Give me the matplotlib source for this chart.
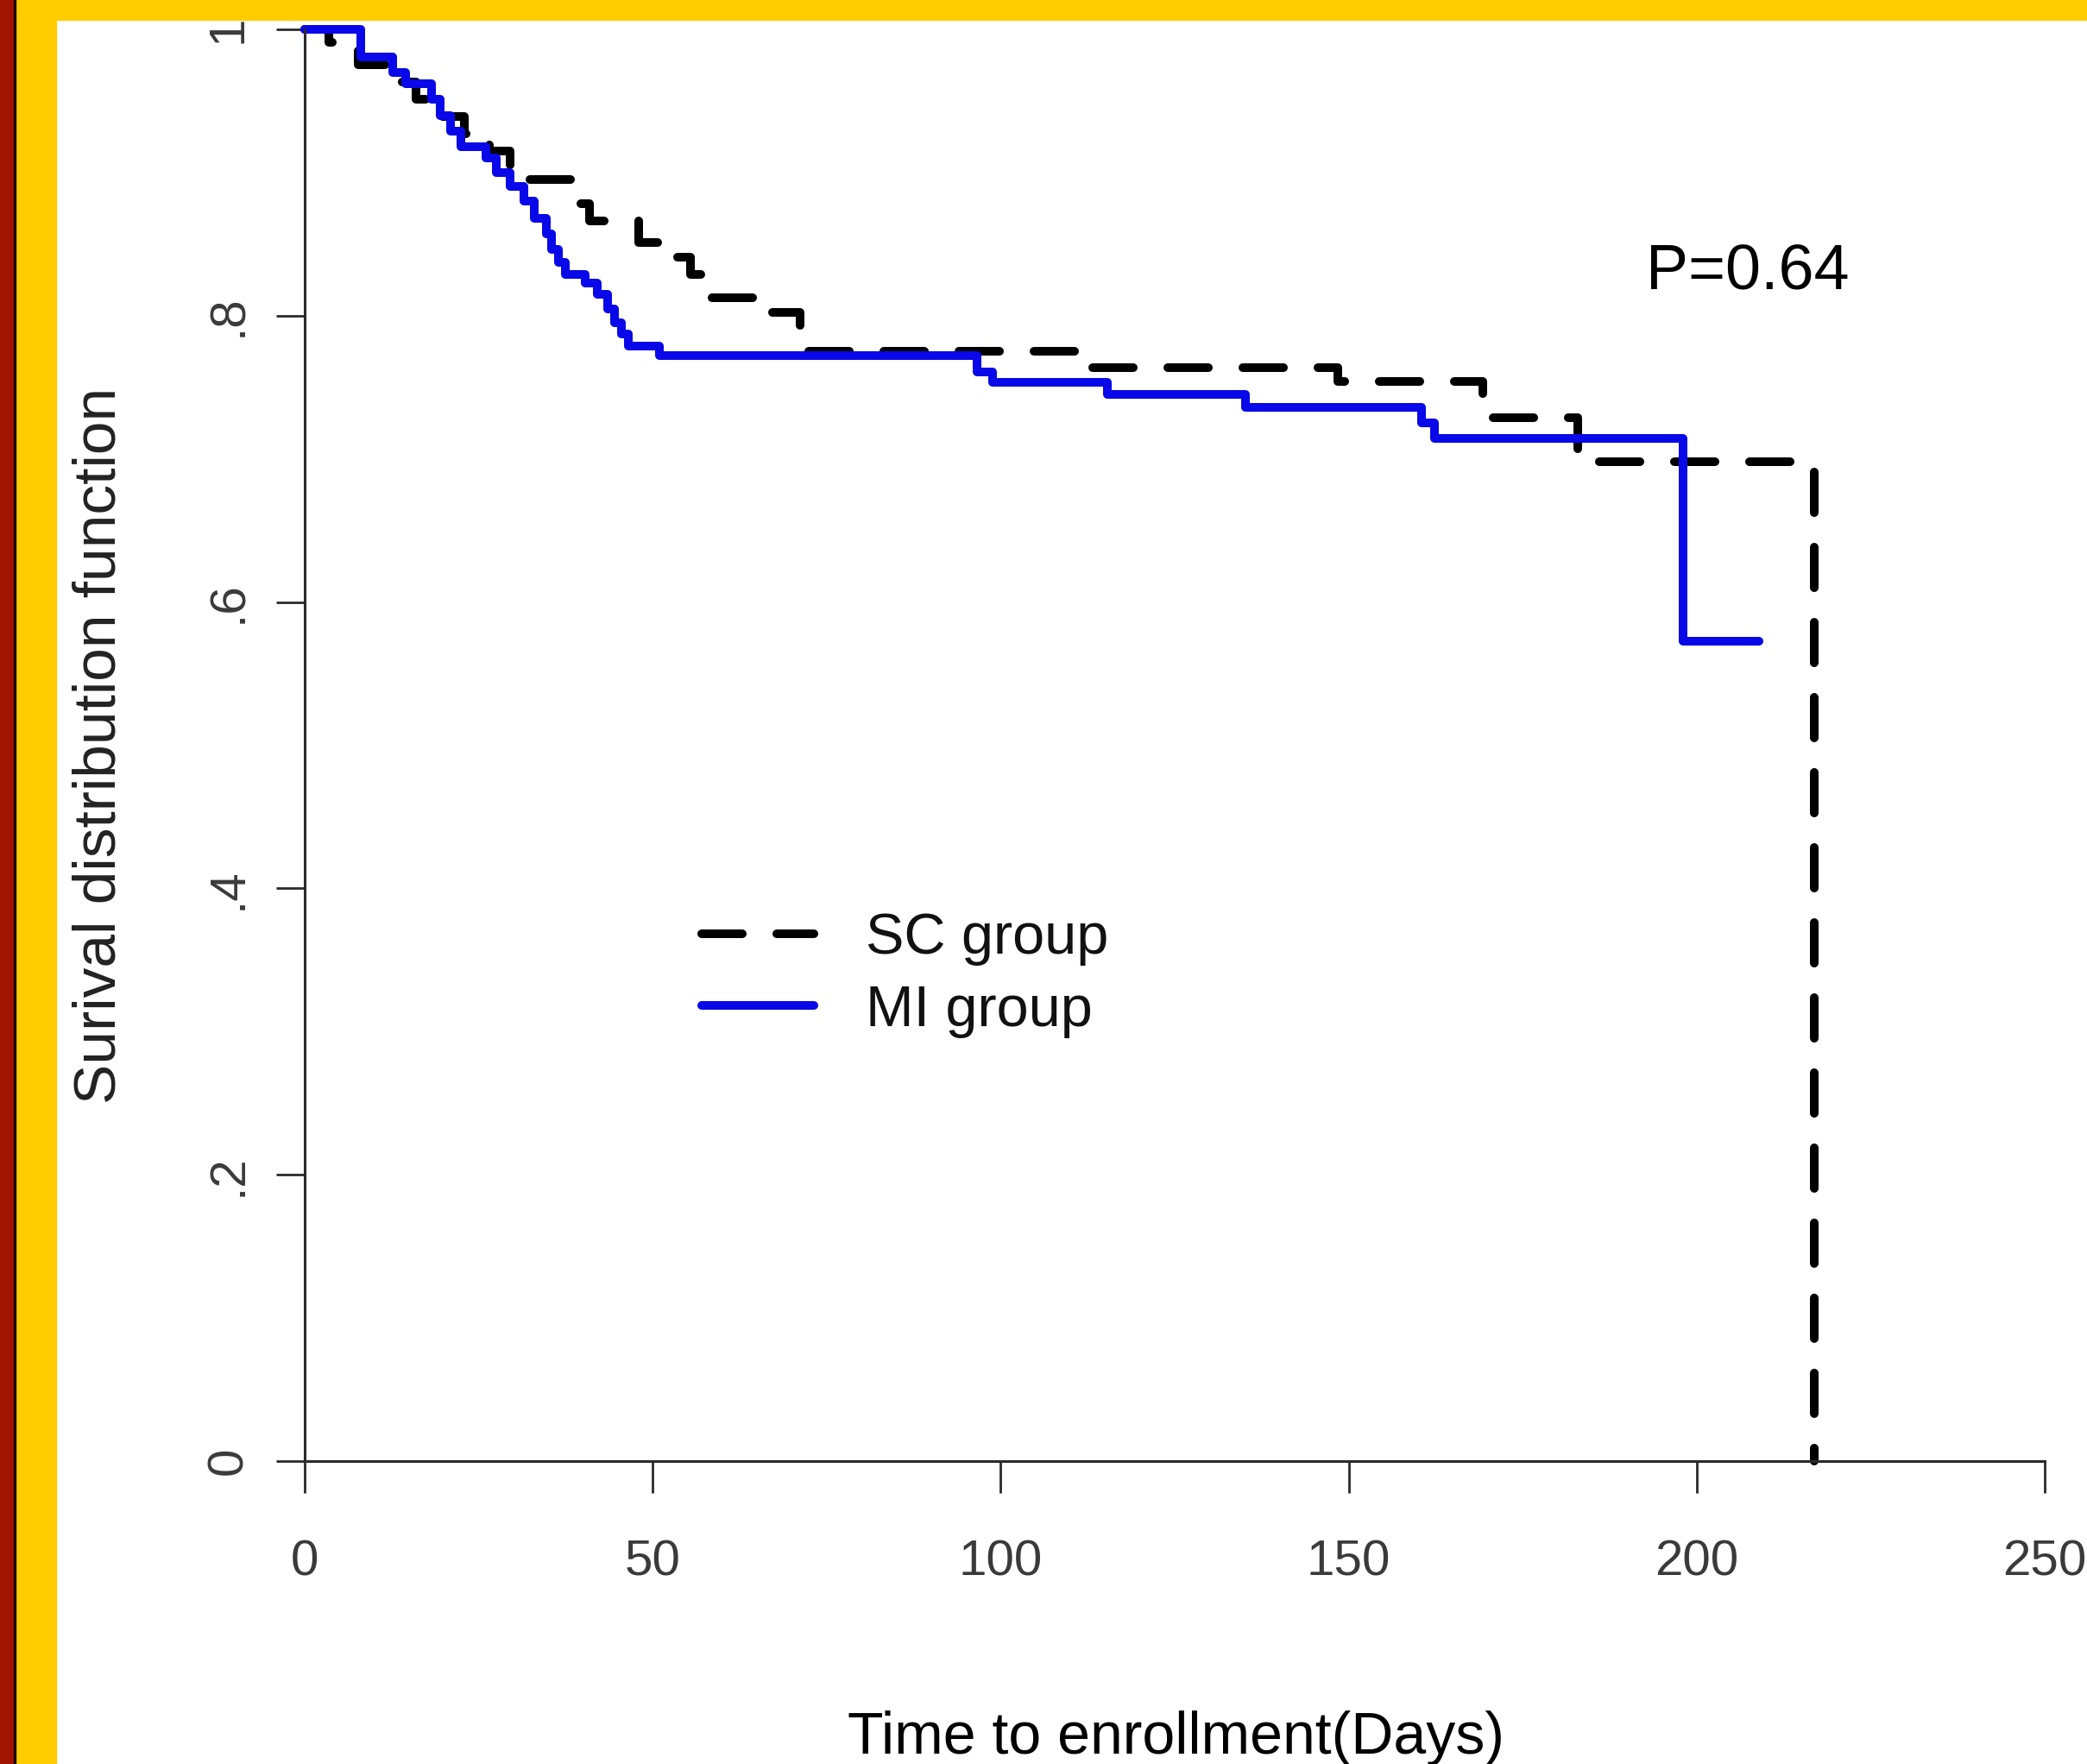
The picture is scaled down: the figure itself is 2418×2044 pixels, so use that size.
import matplotlib
matplotlib.use('Agg')
import matplotlib.pyplot as plt
from matplotlib.patches import Rectangle

plt.rcParams['font.family'] = ['Liberation Sans', 'DejaVu Sans']

# Kaplan-Meier estimates (time in days, survival after the step)
sc_time = [0, 3.5, 7.7, 12.6, 16.0, 19.5, 23.0, 26.5, 29.5, 39.3, 40.9, 48.0,
           52.0, 55.4, 57.5, 65.8, 71.2, 112.0, 148.4, 169.3, 182.9, 216.9]
sc_surv = [1.0, 0.991, 0.975, 0.963, 0.951, 0.939, 0.927, 0.915, 0.895, 0.878,
           0.866, 0.851, 0.841, 0.829, 0.8125, 0.802, 0.775, 0.764, 0.754,
           0.729, 0.698, 0.0]

mi_time = [0, 8.1, 12.6, 14.5, 18.2, 19.5, 21.0, 22.5, 26.0, 27.5, 29.5, 31.5,
           33.0, 34.7, 35.5, 36.5, 37.5, 40.3, 42.0, 43.5, 44.5, 45.5, 46.5,
           51.0, 96.6, 98.8, 115.3, 135.2, 160.5, 162.3, 198.0, 209.0]
mi_surv = [1.0, 0.981, 0.970, 0.962, 0.951, 0.940, 0.929, 0.918, 0.910, 0.900,
           0.890, 0.880, 0.868, 0.857, 0.846, 0.837, 0.829, 0.823, 0.815, 0.805,
           0.795, 0.787, 0.779, 0.772, 0.761, 0.7535, 0.745, 0.736, 0.725,
           0.714, 0.5726, 0.5726]

x_ticks = [0, 50, 100, 150, 200, 250]
y_ticks = [0, 0.2, 0.4, 0.6, 0.8, 1.0]
y_tick_labels = ['0', '.2', '.4', '.6', '.8', '1']
group_labels = ['SC group', 'MI group']
p_text = 'P=0.64'

W, H = 2418, 2044
fig = plt.figure(figsize=(W / 100, H / 100), dpi=100, facecolor='white')

# slide frame: red strip, yellow border
fig.patches.append(Rectangle((0, 1 - 23 / H), 1, 23 / H, transform=fig.transFigure,
                             color='#FFCC00', zorder=0))
fig.patches.append(Rectangle((0, 0), 65 / W, 1, transform=fig.transFigure,
                             color='#FFCC00', zorder=0))
fig.patches.append(Rectangle((0, 0), 16 / W, 1, transform=fig.transFigure,
                             color='#A01400', zorder=1))
fig.patches.append(Rectangle((16 / W, 0), 2 / W, 1, transform=fig.transFigure,
                             color='#1a0a00', zorder=1))

ax = fig.add_axes([353 / W, (H - 1693) / H, 2016 / W, 1659 / H])
ax.set_facecolor('none')

lw = 7.2
sc_line, = ax.step(sc_time, sc_surv, where='post', color='black', lw=lw,
                   dashes=(4.7, 4.0), dash_capstyle='round', clip_on=False,
                   label=group_labels[0])
mi_line, = ax.step(mi_time, mi_surv, where='post', color='#0808e8', lw=lw,
                   solid_capstyle='round', solid_joinstyle='round', clip_on=False,
                   label=group_labels[1])

ax.set_xlim(0, 250)
ax.set_ylim(0, 1)
ax.set_xticks(x_ticks)
ax.set_yticks(y_ticks)
ax.set_yticklabels(y_tick_labels)
for s in ['top', 'right']:
    ax.spines[s].set_visible(False)
for s in ['left', 'bottom']:
    ax.spines[s].set_color('#2a2a2a')
    ax.spines[s].set_linewidth(2.2)

ax.tick_params(axis='x', length=26.5, width=2.0, color='#2a2a2a', pad=39,
               labelsize=42, labelcolor='#3a3a3a')
ax.tick_params(axis='y', length=24, width=2.0, color='#2a2a2a', pad=20,
               labelsize=42, labelcolor='#3a3a3a', labelrotation=90)
for t in ax.get_yticklabels():
    t.set_va('center')

fig.text(116 / W, 1 - 864 / H, 'Surival distribution function', rotation=90,
         ha='center', va='center', fontsize=50, color='#222222')
fig.text(1362 / W, 1 - 2032 / H, 'Time to enrollment(Days)', ha='center',
         va='baseline', fontsize=49, color='black')
fig.text(1907 / W, 1 - 316 / H, p_text, ha='left', va='center', fontsize=53,
         color='black')

leg = ax.legend(handles=[sc_line, mi_line], loc='center left',
                bbox_to_anchor=(813 / W, 1 - 1130 / H), bbox_transform=fig.transFigure,
                frameon=False, fontsize=48, handlelength=1.95, handletextpad=0.9,
                labelspacing=0.32, borderpad=0, borderaxespad=0)
for t in leg.get_texts():
    t.set_color('#111111')

fig.savefig('out.png', dpi=100, facecolor=fig.get_facecolor())
